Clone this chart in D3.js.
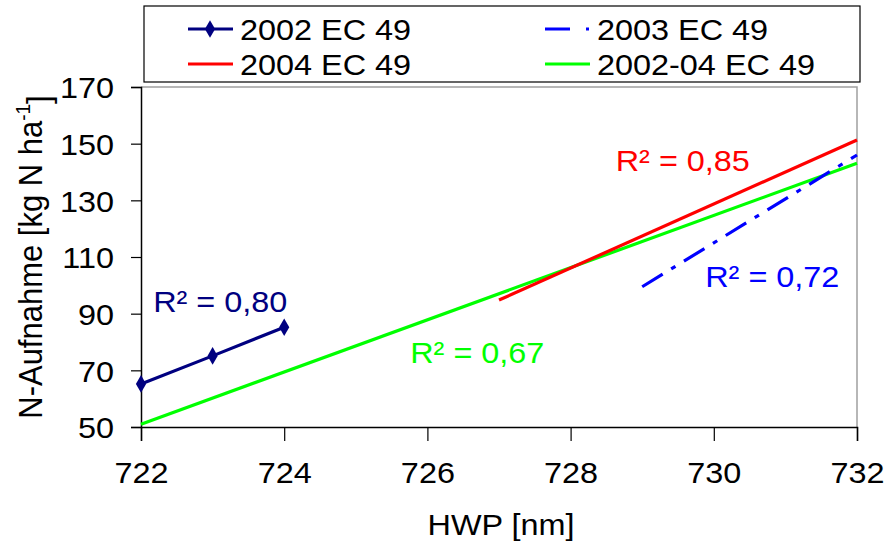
<!DOCTYPE html>
<html>
<head>
<meta charset="utf-8">
<script src="https://cdn.jsdelivr.net/npm/d3@7"></script>
<style>
  body { margin: 0; background: #fff; }
  text { font-family: "Liberation Sans", Arial, sans-serif; }
</style>
</head>
<body>
<div id="chart"></div>
<script>
// values
var xTicks = [722, 724, 726, 728, 730, 732];
var yTicks = [50, 70, 90, 110, 130, 150, 170];

var s2002 = [{x: 722, y: 65.2}, {x: 723, y: 75.1}, {x: 724, y: 85.2}];
var s2003 = [{x: 729, y: 99.5}, {x: 732, y: 146.0}];
var s2004 = [{x: 727, y: 94.8}, {x: 732, y: 151.3}];
var sAll  = [{x: 722, y: 51.0}, {x: 732, y: 143.1}];

var seriesNames = ["2002 EC 49", "2003 EC 49", "2004 EC 49", "2002-04 EC 49"];
var r2Labels = [
    {text: "R² = 0,80", x: 722.17, y: 90.6},
    {text: "R² = 0,72", x: 729.88, y: 99.4},
    {text: "R² = 0,85", x: 728.63, y: 140.4},
    {text: "R² = 0,67", x: 725.76, y: 72.7}
];

var colors = ["#000080", "#0000ff", "#ff0000", "#00ff00"];

var width = 884, height = 542;
var margin = {left: 141, right: 27, top: 87, bottom: 115};
var stretch = "scale(1.08,1)";

var svg = d3.select("#chart")
    .append("svg")
    .attr("width", width)
    .attr("height", height);

var x = d3.scaleLinear()
    .domain([722, 732])
    .range([margin.left, width - margin.right]);

var y = d3.scaleLinear()
    .domain([50, 170])
    .range([height - margin.bottom, margin.top]);

// plot frame (top and right in grey)
svg.append("path")
    .attr("d", "M" + x(722) + "," + y(170) + "H" + x(732) + "V" + y(50))
    .style("fill", "none")
    .style("stroke", "#a0a0a0")
    .style("stroke-width", 1.5);

// Draw Axis
var xAxis = d3.axisBottom(x).tickValues(xTicks).tickSize(14).tickPadding(14);
var yAxis = d3.axisLeft(y).tickValues(yTicks).tickSize(10).tickPadding(15);

var gx = svg.append("g")
    .attr("transform", "translate(0," + y(50) + ")")
    .call(xAxis);
var gy = svg.append("g")
    .attr("transform", "translate(" + x(722) + ",0)")
    .call(yAxis);

[gx, gy].forEach(function(g) {
    g.select(".domain").style("stroke", "#000").style("stroke-width", 1.5);
    g.selectAll(".tick line").style("stroke", "#000").style("stroke-width", 1.2);
    g.selectAll(".tick text")
        .style("font-size", "30px")
        .style("fill", "#000")
        .style("font-family", "'Liberation Sans', Arial, sans-serif")
        .attr("transform", stretch);
});
gx.selectAll(".tick text").attr("y", 56).attr("dy", null);
gy.selectAll(".tick text").attr("dy", "0.36em");

// axis titles
svg.append("text")
    .attr("transform", "translate(" + ((x(722) + x(732)) / 2 + 2) + ",535) " + stretch)
    .attr("text-anchor", "middle")
    .style("font-size", "30px")
    .text("HWP [nm]");

var yt = svg.append("text")
    .attr("transform", "translate(42," + ((y(50) + y(170)) / 2) + ") rotate(-90) scale(1,1.08)")
    .attr("text-anchor", "middle")
    .style("font-size", "31px")
    .text("N-Aufnahme [kg N ha");
yt.append("tspan").attr("dy", "-0.6em").style("font-size", "19px").text("-1");
yt.append("tspan").attr("dy", "0.6em").text("]");

//Define lines
var line = d3.line()
    .x(function(d) { return x(d.x); })
    .y(function(d) { return y(d.y); });

var lines = svg.append("g").attr("class", "lines");
var allSeries = [sAll, s2004, s2003, s2002];
var allColors = [colors[3], colors[2], colors[1], colors[0]];
var dashes = [null, null, "24,10,5,10", null];

lines.selectAll("path")
    .data(allSeries)
    .enter()
    .append("path")
    .attr("d", function(d) { return line(d); })
    .style("fill", "none")
    .style("stroke", function(d, i) { return allColors[i]; })
    .style("stroke-width", 3.2)
    .style("stroke-dasharray", function(d, i) { return dashes[i]; });

var diamond = d3.symbol().type(d3.symbolDiamond).size(90);
svg.append("g")
    .selectAll("path")
    .data(s2002)
    .enter()
    .append("path")
    .attr("d", diamond)
    .attr("transform", function(d) { return "translate(" + x(d.x) + "," + y(d.y) + ")"; })
    .style("fill", colors[0]);

// R² labels
var labelColors = [colors[0], colors[1], colors[2], colors[3]];
svg.append("g")
    .selectAll("text")
    .data(r2Labels)
    .enter()
    .append("text")
    .attr("transform", function(d) { return "translate(" + x(d.x) + "," + y(d.y) + ") " + stretch; })
    .style("font-size", "30px")
    .style("fill", function(d, i) { return labelColors[i]; })
    .text(function(d) { return d.text; });

// Legend
svg.append("rect")
    .attr("x", 144)
    .attr("y", 6)
    .attr("width", 716)
    .attr("height", 76)
    .style("fill", "#fff")
    .style("stroke", "#000")
    .style("stroke-width", 1.2);

var legendPos = [
    {x: 188, y: 29}, {x: 545, y: 29},
    {x: 188, y: 64}, {x: 545, y: 64}
];
var legendDash = [null, "25,16,3,100", null, null];

var lg = svg.append("g")
    .selectAll("g")
    .data(seriesNames)
    .enter()
    .append("g")
    .attr("transform", function(d, i) { return "translate(" + legendPos[i].x + "," + legendPos[i].y + ")"; });

lg.append("line")
    .attr("x1", 0).attr("x2", 45)
    .style("stroke", function(d, i) { return colors[i]; })
    .style("stroke-width", 3.2)
    .style("stroke-dasharray", function(d, i) { return legendDash[i]; });

lg.filter(function(d, i) { return i == 0; })
    .append("path")
    .attr("d", diamond)
    .attr("transform", "translate(22,0)")
    .style("fill", colors[0]);

lg.append("text")
    .attr("transform", "translate(52,11) " + stretch)
    .style("font-size", "30px")
    .text(function(d) { return d; });
</script>
</body>
</html>
